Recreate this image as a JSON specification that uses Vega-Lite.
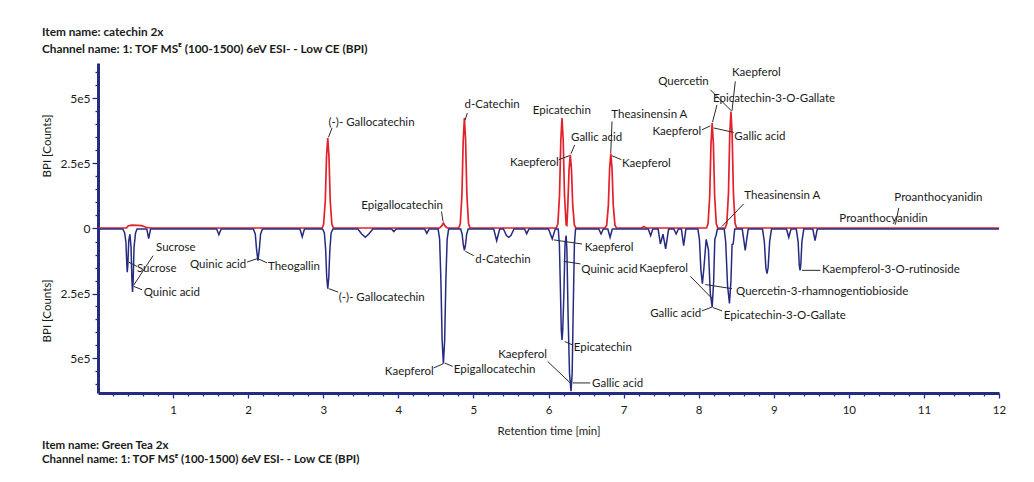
{
  "$schema": "https://vega.github.io/schema/vega-lite/v6.json",
  "padding": {"left": 41, "top": 27, "right": 10, "bottom": 8},
  "background": "white",
  "title": {
    "text": ["Item name: catechin 2x", "Channel name: 1: TOF MSᴱ (100-1500) 6eV ESI- - Low CE (BPI)"],
    "anchor": "start", "fontSize": 11.8, "fontWeight": "bold", "lineHeight": 17, "color": "#1a1a1a", "font": "Lato", "offset": 7
  },
  "datasets": {
    "red": [
      {"t": 0, "v": 0}, {"t": 0.38, "v": 0}, {"t": 0.40, "v": 8000}, {"t": 0.45, "v": 11000}, {"t": 0.52, "v": 10000}, {"t": 0.58, "v": 9000}, {"t": 0.64, "v": 3000}, {"t": 0.70, "v": 0},
      {"t": 2.985, "v": 0}, {"t": 3.005, "v": 14000}, {"t": 3.027, "v": 104000}, {"t": 3.044, "v": 277000}, {"t": 3.06, "v": 346000}, {"t": 3.076, "v": 277000}, {"t": 3.093, "v": 104000}, {"t": 3.115, "v": 14000}, {"t": 3.135, "v": 0},
      {"t": 4.55, "v": 0}, {"t": 4.58, "v": 9000}, {"t": 4.60, "v": 19000}, {"t": 4.62, "v": 9000}, {"t": 4.65, "v": 0},
      {"t": 4.805, "v": 0}, {"t": 4.825, "v": 17000}, {"t": 4.847, "v": 127000}, {"t": 4.864, "v": 338000}, {"t": 4.88, "v": 423000}, {"t": 4.896, "v": 338000}, {"t": 4.913, "v": 127000}, {"t": 4.935, "v": 17000}, {"t": 4.955, "v": 0},
      {"t": 6.105, "v": 0}, {"t": 6.125, "v": 17000}, {"t": 6.147, "v": 127000}, {"t": 6.164, "v": 338000}, {"t": 6.18, "v": 423000}, {"t": 6.196, "v": 338000}, {"t": 6.213, "v": 127000}, {"t": 6.235, "v": 12000},
      {"t": 6.245, "v": 10000}, {"t": 6.257, "v": 85000}, {"t": 6.274, "v": 226000}, {"t": 6.29, "v": 282000}, {"t": 6.306, "v": 226000}, {"t": 6.323, "v": 85000}, {"t": 6.345, "v": 11000}, {"t": 6.365, "v": 0},
      {"t": 6.755, "v": 0}, {"t": 6.775, "v": 11000}, {"t": 6.797, "v": 86000}, {"t": 6.814, "v": 229000}, {"t": 6.83, "v": 286000}, {"t": 6.846, "v": 229000}, {"t": 6.863, "v": 86000}, {"t": 6.885, "v": 11000}, {"t": 6.905, "v": 0},
      {"t": 7.24, "v": 0}, {"t": 7.27, "v": 6000}, {"t": 7.30, "v": 0},
      {"t": 8.105, "v": 0}, {"t": 8.125, "v": 16000}, {"t": 8.147, "v": 121000}, {"t": 8.164, "v": 323000}, {"t": 8.18, "v": 404000}, {"t": 8.196, "v": 323000}, {"t": 8.213, "v": 121000}, {"t": 8.235, "v": 16000}, {"t": 8.255, "v": 0},
      {"t": 8.355, "v": 0}, {"t": 8.375, "v": 18000}, {"t": 8.397, "v": 134000}, {"t": 8.414, "v": 358000}, {"t": 8.43, "v": 448000}, {"t": 8.446, "v": 358000}, {"t": 8.463, "v": 134000}, {"t": 8.485, "v": 18000}, {"t": 8.505, "v": 0},
      {"t": 12, "v": 0}
    ],
    "blue": [
      {"t": 0, "v": 0}, {"t": 0.33, "v": 0}, {"t": 0.355, "v": -15000}, {"t": 0.372, "v": -50000}, {"t": 0.384, "v": -140000}, {"t": 0.39, "v": -167000}, {"t": 0.397, "v": -140000}, {"t": 0.41, "v": -45000}, {"t": 0.425, "v": -20000},
      {"t": 0.44, "v": -70000}, {"t": 0.452, "v": -200000}, {"t": 0.46, "v": -244000}, {"t": 0.468, "v": -200000}, {"t": 0.48, "v": -70000}, {"t": 0.50, "v": -15000}, {"t": 0.52, "v": 0},
      {"t": 0.65, "v": 0}, {"t": 0.675, "v": -37000}, {"t": 0.70, "v": 0},
      {"t": 1.58, "v": 0}, {"t": 1.61, "v": -22000}, {"t": 1.64, "v": 0},
      {"t": 2.07, "v": 0}, {"t": 2.095, "v": -20000}, {"t": 2.112, "v": -80000}, {"t": 2.13, "v": -122000}, {"t": 2.148, "v": -80000}, {"t": 2.165, "v": -20000}, {"t": 2.19, "v": 0},
      {"t": 2.69, "v": 0}, {"t": 2.72, "v": -30000}, {"t": 2.75, "v": 0},
      {"t": 2.99, "v": 0}, {"t": 3.015, "v": -15000}, {"t": 3.032, "v": -80000}, {"t": 3.046, "v": -185000}, {"t": 3.06, "v": -231000}, {"t": 3.074, "v": -185000}, {"t": 3.088, "v": -80000}, {"t": 3.105, "v": -15000}, {"t": 3.13, "v": 0},
      {"t": 3.46, "v": 0}, {"t": 3.51, "v": -18000}, {"t": 3.56, "v": -32000}, {"t": 3.61, "v": -18000}, {"t": 3.66, "v": 0},
      {"t": 3.91, "v": 0}, {"t": 3.94, "v": -10000}, {"t": 3.97, "v": 0},
      {"t": 4.35, "v": 0}, {"t": 4.38, "v": -17000}, {"t": 4.41, "v": 0},
      {"t": 4.53, "v": 0}, {"t": 4.55, "v": -40000}, {"t": 4.567, "v": -200000}, {"t": 4.583, "v": -430000}, {"t": 4.60, "v": -522000}, {"t": 4.617, "v": -430000}, {"t": 4.633, "v": -200000}, {"t": 4.65, "v": -40000}, {"t": 4.67, "v": 0},
      {"t": 4.83, "v": 0}, {"t": 4.85, "v": -20000}, {"t": 4.865, "v": -60000}, {"t": 4.88, "v": -83000}, {"t": 4.895, "v": -60000}, {"t": 4.91, "v": -20000}, {"t": 4.93, "v": 0},
      {"t": 5.27, "v": 0}, {"t": 5.31, "v": -45000}, {"t": 5.35, "v": 0},
      {"t": 5.40, "v": 0}, {"t": 5.44, "v": -25000}, {"t": 5.47, "v": -32000}, {"t": 5.50, "v": -25000}, {"t": 5.54, "v": 0},
      {"t": 5.68, "v": 0}, {"t": 5.71, "v": -18000}, {"t": 5.74, "v": 0},
      {"t": 6.00, "v": 0}, {"t": 6.05, "v": -38000}, {"t": 6.09, "v": 0},
      {"t": 6.13, "v": 0}, {"t": 6.145, "v": -60000}, {"t": 6.16, "v": -250000}, {"t": 6.17, "v": -390000}, {"t": 6.18, "v": -430000}, {"t": 6.19, "v": -390000}, {"t": 6.205, "v": -250000}, {"t": 6.22, "v": -60000}, {"t": 6.235, "v": -25000},
      {"t": 6.245, "v": -80000}, {"t": 6.262, "v": -350000}, {"t": 6.28, "v": -560000}, {"t": 6.30, "v": -628000}, {"t": 6.315, "v": -560000}, {"t": 6.33, "v": -300000}, {"t": 6.345, "v": -60000}, {"t": 6.36, "v": 0},
      {"t": 6.67, "v": 0}, {"t": 6.70, "v": -19000}, {"t": 6.73, "v": 0},
      {"t": 6.79, "v": 0}, {"t": 6.82, "v": -32000}, {"t": 6.85, "v": 0},
      {"t": 7.33, "v": 0}, {"t": 7.36, "v": -26000}, {"t": 7.39, "v": 0},
      {"t": 7.46, "v": 0}, {"t": 7.49, "v": -58000}, {"t": 7.525, "v": -20000}, {"t": 7.56, "v": -77000}, {"t": 7.60, "v": 0},
      {"t": 7.67, "v": 0}, {"t": 7.70, "v": -19000}, {"t": 7.73, "v": 0},
      {"t": 7.77, "v": 0}, {"t": 7.80, "v": -64000}, {"t": 7.83, "v": 0},
      {"t": 7.99, "v": 0}, {"t": 8.01, "v": -40000}, {"t": 8.03, "v": -160000}, {"t": 8.05, "v": -212000}, {"t": 8.07, "v": -150000}, {"t": 8.10, "v": -40000},
      {"t": 8.13, "v": -80000}, {"t": 8.155, "v": -250000}, {"t": 8.18, "v": -302000}, {"t": 8.20, "v": -200000}, {"t": 8.215, "v": -40000}, {"t": 8.23, "v": -26000}, {"t": 8.25, "v": 0},
      {"t": 8.34, "v": 0}, {"t": 8.36, "v": -50000}, {"t": 8.385, "v": -220000}, {"t": 8.41, "v": -288000}, {"t": 8.43, "v": -200000}, {"t": 8.445, "v": -60000}, {"t": 8.46, "v": -58000}, {"t": 8.48, "v": 0},
      {"t": 8.58, "v": 0}, {"t": 8.60, "v": -40000}, {"t": 8.62, "v": -83000}, {"t": 8.64, "v": -40000}, {"t": 8.66, "v": 0},
      {"t": 8.85, "v": 0}, {"t": 8.875, "v": -50000}, {"t": 8.895, "v": -150000}, {"t": 8.91, "v": -173000}, {"t": 8.925, "v": -150000}, {"t": 8.945, "v": -50000}, {"t": 8.97, "v": 0},
      {"t": 9.17, "v": 0}, {"t": 9.20, "v": -32000}, {"t": 9.23, "v": 0},
      {"t": 9.30, "v": 0}, {"t": 9.325, "v": -50000}, {"t": 9.34, "v": -140000}, {"t": 9.35, "v": -160000}, {"t": 9.36, "v": -140000}, {"t": 9.375, "v": -50000}, {"t": 9.40, "v": 0},
      {"t": 9.52, "v": 0}, {"t": 9.55, "v": -45000}, {"t": 9.58, "v": 0},
      {"t": 12, "v": 0}
    ],
    "labTop": [
      {"t": 3.07, "v": 403000, "label": "(-)- Gallocatechin", "side": "right"},
      {"t": 4.595, "v": 83000, "label": "Epigallocatechin", "side": "left"},
      {"t": 4.881, "v": 474000, "label": "d-Catechin", "side": "right"},
      {"t": 5.79, "v": 452000, "label": "Epicatechin", "side": "right"},
      {"t": 6.30, "v": 348000, "label": "Gallic acid", "side": "right"},
      {"t": 6.136, "v": 250000, "label": "Kaepferol", "side": "left"},
      {"t": 6.837, "v": 433000, "label": "Theasinensin A", "side": "right"},
      {"t": 6.979, "v": 247000, "label": "Kaepferol", "side": "right"},
      {"t": 8.134, "v": 560000, "label": "Quercetin", "side": "left"},
      {"t": 8.444, "v": 596000, "label": "Kaepferol", "side": "right"},
      {"t": 8.191, "v": 497000, "label": "Epicatechin-3-O-Gallate", "side": "right"},
      {"t": 8.035, "v": 369000, "label": "Kaepferol", "side": "left"},
      {"t": 8.475, "v": 352000, "label": "Gallic acid", "side": "right"},
      {"t": 8.608, "v": 122000, "label": "Theasinensin A", "side": "right"},
      {"t": 10.606, "v": 115000, "label": "Proanthocyanidin", "side": "right"},
      {"t": 9.874, "v": 35000, "label": "Proanthocyanidin", "side": "right"}
    ],
    "leadTop": [
      {"t": 3.117, "v": 385000, "t2": 3.07, "v2": 349000},
      {"t": 4.575, "v": 63000, "t2": 4.595, "v2": 26000},
      {"t": 4.919, "v": 442000, "t2": 4.888, "v2": 415000},
      {"t": 6.349, "v": 320000, "t2": 6.30, "v2": 286000},
      {"t": 6.136, "v": 263000, "t2": 6.277, "v2": 278000},
      {"t": 6.846, "v": 410000, "t2": 6.829, "v2": 288000},
      {"t": 6.846, "v": 278000, "t2": 6.97, "v2": 263000},
      {"t": 8.155, "v": 532000, "t2": 8.435, "v2": 451000},
      {"t": 8.488, "v": 564000, "t2": 8.444, "v2": 451000},
      {"t": 8.244, "v": 474000, "t2": 8.184, "v2": 407000},
      {"t": 8.045, "v": 378000, "t2": 8.155, "v2": 393000},
      {"t": 8.20, "v": 385000, "t2": 8.466, "v2": 368000},
      {"t": 8.60, "v": 93000, "t2": 8.311, "v2": 6000},
      {"t": 10.665, "v": 77000, "t2": 10.62, "v2": 13000}
    ],
    "labBot": [
      {"t": 0.7725, "v": -75000, "label": "Sucrose", "side": "right"},
      {"t": 0.519, "v": -154000, "label": "Sucrose", "side": "right"},
      {"t": 0.609, "v": -248000, "label": "Quinic acid", "side": "right"},
      {"t": 1.975, "v": -141000, "label": "Quinic acid", "side": "left"},
      {"t": 2.264, "v": -148000, "label": "Theogallin", "side": "right"},
      {"t": 3.206, "v": -268000, "label": "(-)- Gallocatechin", "side": "right"},
      {"t": 5.025, "v": -119000, "label": "d-Catechin", "side": "right"},
      {"t": 4.471, "v": -555000, "label": "Kaepferol", "side": "left"},
      {"t": 4.738, "v": -545000, "label": "Epigallocatechin", "side": "right"},
      {"t": 6.482, "v": -73000, "label": "Kaepferol", "side": "right"},
      {"t": 6.437, "v": -157000, "label": "Quinic acid", "side": "right"},
      {"t": 7.858, "v": -154000, "label": "Kaepferol", "side": "left"},
      {"t": 6.336, "v": -462000, "label": "Epicatechin", "side": "right"},
      {"t": 5.98, "v": -487000, "label": "Kaepferol", "side": "left"},
      {"t": 6.58, "v": -599000, "label": "Gallic acid", "side": "right"},
      {"t": 9.643, "v": -160000, "label": "Kaempferol-3-O-rutinoside", "side": "right"},
      {"t": 8.498, "v": -244000, "label": "Quercetin-3-rhamnogentiobioside", "side": "right"},
      {"t": 8.035, "v": -330000, "label": "Gallic acid", "side": "left"},
      {"t": 8.334, "v": -337000, "label": "Epicatechin-3-O-Gallate", "side": "right"}
    ],
    "leadBot": [
      {"t": 0.733, "v": -103000, "t2": 0.475, "v2": -218000},
      {"t": 0.409, "v": -128000, "t2": 0.519, "v2": -145000},
      {"t": 0.475, "v": -222000, "t2": 0.586, "v2": -235000},
      {"t": 1.985, "v": -128000, "t2": 2.118, "v2": -115000},
      {"t": 2.131, "v": -115000, "t2": 2.251, "v2": -131000},
      {"t": 3.073, "v": -231000, "t2": 3.197, "v2": -244000},
      {"t": 4.892, "v": -86000, "t2": 5.004, "v2": -103000},
      {"t": 4.471, "v": -538000, "t2": 4.595, "v2": -522000},
      {"t": 4.618, "v": -519000, "t2": 4.724, "v2": -532000},
      {"t": 6.07, "v": -42000, "t2": 6.446, "v2": -58000},
      {"t": 6.203, "v": -125000, "t2": 6.424, "v2": -135000},
      {"t": 7.889, "v": -183000, "t2": 8.178, "v2": -269000},
      {"t": 6.216, "v": -436000, "t2": 6.323, "v2": -449000},
      {"t": 5.989, "v": -513000, "t2": 6.29, "v2": -596000},
      {"t": 6.323, "v": -596000, "t2": 6.557, "v2": -596000},
      {"t": 9.377, "v": -160000, "t2": 9.62, "v2": -160000},
      {"t": 8.089, "v": -215000, "t2": 8.444, "v2": -231000},
      {"t": 8.045, "v": -317000, "t2": 8.178, "v2": -302000},
      {"t": 8.187, "v": -304000, "t2": 8.311, "v2": -317000}
    ]
  },
  "spacing": 0,
  "bounds": "flush",
  "vconcat": [
    {
      "width": 901,
      "height": 165,
      "resolve": {"axis": {"y": "independent"}},
      "layer": [
        {
          "data": {"name": "red"},
          "mark": {"type": "line", "color": "#e3212b", "strokeWidth": 1.7},
          "encoding": {
            "x": {"field": "t", "type": "quantitative", "scale": {"domain": [0, 12], "nice": false, "zero": false}, "axis": null},
            "y": {"field": "v", "type": "quantitative", "scale": {"domain": [0, 635000], "nice": false},
              "axis": {
                "orient": "left",
                "title": "BPI [Counts]",
                "values": [0, 250000, 500000],
                "labelExpr": "datum.value === 0 ? '0' : datum.value === 250000 ? '2.5e5' : '5e5'",
                "tickSize": 6, "labelPadding": 2, "titlePadding": 7
              }
            }
          }
        },
        {
          "data": {"name": "leadTop"},
          "mark": {"type": "rule", "color": "#2a2a2a", "strokeWidth": 1},
          "encoding": {
            "x": {"field": "t", "type": "quantitative", "scale": {"domain": [0, 12], "nice": false, "zero": false}, "axis": null},
            "y": {"field": "v", "type": "quantitative", "scale": {"domain": [0, 635000], "nice": false},
              "axis": {
                "orient": "left", "title": null, "labels": false, "domain": false, "tickSize": 3,
                "values": [50000, 100000, 150000, 200000, 300000, 350000, 400000, 450000, 550000, 600000]
              }
            },
            "x2": {"field": "t2"},
            "y2": {"field": "v2"}
          }
        },
        {
          "data": {"name": "labTop"},
          "transform": [{"filter": "datum.side === 'right'"}],
          "mark": {"type": "text", "align": "left", "baseline": "middle", "fontSize": 11.5, "font": "Lato", "color": "#1a1a1a"},
          "encoding": {
            "x": {"field": "t", "type": "quantitative", "scale": {"domain": [0, 12], "nice": false, "zero": false}, "axis": null},
            "y": {"field": "v", "type": "quantitative", "scale": {"domain": [0, 635000], "nice": false}, "axis": null},
            "text": {"field": "label"}
          }
        },
        {
          "data": {"name": "labTop"},
          "transform": [{"filter": "datum.side === 'left'"}],
          "mark": {"type": "text", "align": "right", "baseline": "middle", "fontSize": 11.5, "font": "Lato", "color": "#1a1a1a"},
          "encoding": {
            "x": {"field": "t", "type": "quantitative", "scale": {"domain": [0, 12], "nice": false, "zero": false}, "axis": null},
            "y": {"field": "v", "type": "quantitative", "scale": {"domain": [0, 635000], "nice": false}, "axis": null},
            "text": {"field": "label"}
          }
        }
      ]
    },
    {
      "width": 901,
      "height": 165,
      "title": {
        "text": ["Item name: Green Tea 2x", "Channel name: 1: TOF MSᴱ (100-1500) 6eV ESI- - Low CE (BPI)"],
        "orient": "bottom", "anchor": "start", "fontSize": 11.5, "fontWeight": "bold", "lineHeight": 14, "color": "#1a1a1a", "font": "Lato", "offset": 3
      },
      "resolve": {"axis": {"x": "independent", "y": "independent"}},
      "layer": [
        {
          "data": {"name": "blue"},
          "mark": {"type": "line", "color": "#262b82", "strokeWidth": 1.5},
          "encoding": {
            "x": {"field": "t", "type": "quantitative", "scale": {"domain": [0, 12], "nice": false, "zero": false},
              "axis": {
                "orient": "bottom",
                "title": "Retention time [min]",
                "values": [1, 2, 3, 4, 5, 6, 7, 8, 9, 10, 11, 12],
                "format": "d",
                "tickSize": 5, "labelPadding": 6, "titlePadding": 10, "labelFlush": false, "labelFontSize": 11.5
              }
            },
            "y": {"field": "v", "type": "quantitative", "scale": {"domain": [-635000, 4000], "nice": false, "zero": false},
              "axis": {
                "orient": "left",
                "title": "BPI [Counts]",
                "values": [-250000, -500000],
                "labelExpr": "datum.value === -250000 ? '2.5e5' : '5e5'",
                "tickSize": 6, "labelPadding": 2, "titlePadding": 7
              }
            }
          }
        },
        {
          "data": {"name": "leadBot"},
          "mark": {"type": "rule", "color": "#2a2a2a", "strokeWidth": 1},
          "encoding": {
            "x": {"field": "t", "type": "quantitative", "scale": {"domain": [0, 12], "nice": false, "zero": false},
              "axis": {
                "orient": "bottom", "title": null, "labels": false, "domain": false, "tickSize": 3,
                "values": [0.2, 0.4, 0.6, 0.8, 1.2, 1.4, 1.6, 1.8, 2.2, 2.4, 2.6, 2.8, 3.2, 3.4, 3.6, 3.8, 4.2, 4.4, 4.6, 4.8, 5.2, 5.4, 5.6, 5.8, 6.2, 6.4, 6.6, 6.8, 7.2, 7.4, 7.6, 7.8, 8.2, 8.4, 8.6, 8.8, 9.2, 9.4, 9.6, 9.8, 10.2, 10.4, 10.6, 10.8, 11.2, 11.4, 11.6, 11.8]
              }
            },
            "y": {"field": "v", "type": "quantitative", "scale": {"domain": [-635000, 4000], "nice": false, "zero": false},
              "axis": {
                "orient": "left", "title": null, "labels": false, "domain": false, "tickSize": 3,
                "values": [-600000, -550000, -450000, -400000, -350000, -300000, -200000, -150000, -100000, -50000]
              }
            },
            "x2": {"field": "t2"},
            "y2": {"field": "v2"}
          }
        },
        {
          "data": {"name": "labBot"},
          "transform": [{"filter": "datum.side === 'right'"}],
          "mark": {"type": "text", "align": "left", "baseline": "middle", "fontSize": 11.5, "font": "Lato", "color": "#1a1a1a"},
          "encoding": {
            "x": {"field": "t", "type": "quantitative", "scale": {"domain": [0, 12], "nice": false, "zero": false}, "axis": null},
            "y": {"field": "v", "type": "quantitative", "scale": {"domain": [-635000, 4000], "nice": false, "zero": false}, "axis": null},
            "text": {"field": "label"}
          }
        },
        {
          "data": {"name": "labBot"},
          "transform": [{"filter": "datum.side === 'left'"}],
          "mark": {"type": "text", "align": "right", "baseline": "middle", "fontSize": 11.5, "font": "Lato", "color": "#1a1a1a"},
          "encoding": {
            "x": {"field": "t", "type": "quantitative", "scale": {"domain": [0, 12], "nice": false, "zero": false}, "axis": null},
            "y": {"field": "v", "type": "quantitative", "scale": {"domain": [-635000, 4000], "nice": false, "zero": false}, "axis": null},
            "text": {"field": "label"}
          }
        }
      ]
    }
  ],
  "config": {
    "view": {"stroke": null},
    "font": "Lato",
    "axis": {
      "domainColor": "#262b82", "domainWidth": 3, "tickColor": "#262b82", "tickWidth": 1.3,
      "labelFont": "Lato", "labelFontSize": 12, "labelColor": "#1a1a1a",
      "titleFont": "Lato", "titleFontSize": 11.5, "titleFontWeight": "normal", "titleColor": "#1a1a1a",
      "grid": false
    }
  }
}
